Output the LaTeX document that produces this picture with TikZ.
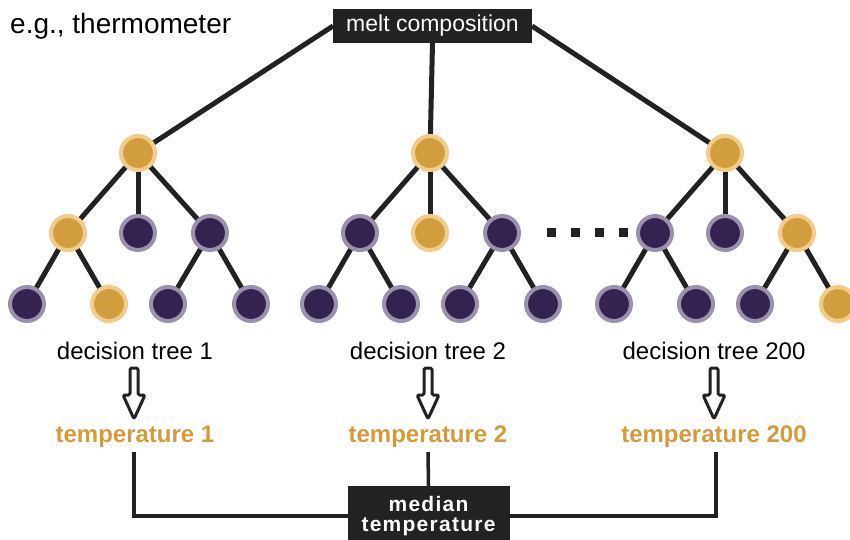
\documentclass[tikz,border=0pt]{standalone}
\usepackage{fontspec}
\setmainfont{Liberation Sans}
\usetikzlibrary{arrows.meta,backgrounds}
\definecolor{dark}{HTML}{222222}
\definecolor{goldin}{RGB}{210,157,60}
\definecolor{goldring}{RGB}{240,205,140}
\definecolor{purpin}{RGB}{52,34,80}
\definecolor{purpring}{RGB}{155,145,172}
\definecolor{goldtext}{RGB}{212,155,58}
\tikzset{
 gn/.style={circle, fill=goldin, draw=goldring, line width=4pt, minimum size=34pt, inner sep=0pt, outer sep=0pt},
 pn/.style={circle, fill=purpin, draw=purpring, line width=4pt, minimum size=34pt, inner sep=0pt, outer sep=0pt},
 edge/.style={draw=dark, line width=5pt},
 blackbox/.style={fill=dark, text=white, inner sep=0pt, outer sep=0pt},
 lab/.style={font=\fontsize{24}{27}\selectfont, text=black, inner sep=0pt},
 templab/.style={font=\bfseries\fontsize{24}{27}\selectfont, text=goldtext, inner sep=0pt},
 link/.style={draw=dark, line width=3.5pt},
 dotsq/.style={fill=dark, minimum size=9pt, inner sep=0pt},
 hollowarrow/.pic={\draw[dark, line width=3pt, fill=white, line join=round, rounded corners=1.5pt] (-4,0) -- (-4,27) -- (-11,27) -- (0,51) -- (11,27) -- (4,27) -- (4,0) -- cycle;}
}
\begin{document}
\begin{tikzpicture}[x=1pt,y=-1pt]
\useasboundingbox (0,0) rectangle (850,539);
\node[lab, font=\fontsize{28}{30}\selectfont, anchor=base west] (eg) at (10,33) {e.g., thermometer};
\node[blackbox, minimum width=199pt, minimum height=34pt, font=\fontsize{23}{26}\selectfont] (mc) at (432.5,26) {melt composition};

\foreach \t/\dx/\sr/\sa/\sb/\sc/\sd/\se/\sf/\sg in {1/0/gn/gn/pn/pn/pn/gn/pn/pn, 2/292/gn/pn/gn/pn/pn/pn/pn/pn, 3/587/gn/pn/pn/gn/pn/pn/pn/gn}{
  \node[\sr] (t\t r) at (138+\dx,153) {};
  \node[\sa] (t\t a) at (68+\dx,233) {};
  \node[\sb] (t\t b) at (138+\dx,233) {};
  \node[\sc] (t\t c) at (210+\dx,233) {};
  \node[\sd] (t\t d) at (27+\dx,304) {};
  \node[\se] (t\t e) at (109+\dx,304) {};
  \node[\sf] (t\t f) at (168+\dx,304) {};
  \node[\sg] (t\t g) at (251+\dx,304) {};
  \begin{scope}[on background layer]
    \draw[edge] (t\t r) -- (t\t a);
    \draw[edge] (t\t r) -- (t\t b);
    \draw[edge] (t\t r) -- (t\t c);
    \draw[edge] (t\t a) -- (t\t d);
    \draw[edge] (t\t a) -- (t\t e);
    \draw[edge] (t\t c) -- (t\t f);
    \draw[edge] (t\t c) -- (t\t g);
  \end{scope}
}
\begin{scope}[on background layer]
  \draw[edge] (mc.west) -- (t1r);
  \draw[edge] (mc.south) -- (t2r);
  \draw[edge] (mc.east) -- (t3r);
\end{scope}

\foreach \i/\x in {1/551,2/575,3/599,4/623}{\node[dotsq] (dot\i) at (\x,232) {};}

\node[lab, anchor=base] (dt1) at (135,359) {decision tree 1};
\node[lab, anchor=base] (dt2) at (428,359) {decision tree 2};
\node[lab, anchor=base] (dt3) at (714,359) {decision tree 200};

\pic at (134,368) {hollowarrow};
\pic at (428,368) {hollowarrow};
\pic at (714,368) {hollowarrow};

\node[templab, anchor=base] (tp1) at (135,442) {temperature 1};
\node[templab, anchor=base] (tp2) at (428,442) {temperature 2};
\node[templab, anchor=base] (tp3) at (714,442) {temperature 200};

\node[blackbox, minimum width=162pt, minimum height=60pt, align=center, font=\bfseries\fontsize{21}{20}\selectfont\addfontfeatures{LetterSpace=6}] (mt) at (428.5,516) {median\\temperature};

\coordinate (c1) at (134,452);
\coordinate (c2) at (428,452);
\coordinate (c3) at (716,452);
\draw[link] (c1) |- (mt.west);
\draw[link] (c2) -- (mt.north);
\draw[link] (c3) |- (mt.east);
\end{tikzpicture}
\end{document}
